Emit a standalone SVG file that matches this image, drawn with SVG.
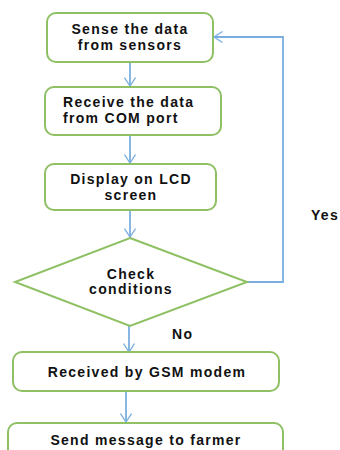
<svg xmlns="http://www.w3.org/2000/svg" width="340" height="450" viewBox="0 0 340 450">
  <defs>
    <marker id="open" viewBox="0 0 10 12" refX="9.5" refY="6" markerWidth="10" markerHeight="12" markerUnits="userSpaceOnUse" orient="auto">
      <path d="M1 0.5 L9.5 6 L1 11.5" fill="none" stroke="#7aaee0" stroke-width="1.3"/>
    </marker>
  </defs>
  <style>
    .box { fill: #ffffff; stroke: #8fc064; stroke-width: 2; }
    .lbl { font-family: "Liberation Sans", Arial, sans-serif; font-weight: bold; font-size: 14px; letter-spacing: 1.3px; fill: #111111; }
    .mid { text-anchor: middle; }
    .edge { fill: none; stroke: #7aaee0; stroke-width: 1.8; marker-end: url(#open); }
  </style>
  <rect width="340" height="450" fill="#ffffff"/>

  <g id="connectors">
    <line class="edge" x1="130" y1="62" x2="130" y2="86"/>
    <line class="edge" x1="130" y1="135" x2="130" y2="163"/>
    <line class="edge" x1="130" y1="210" x2="130" y2="237"/>
    <line class="edge" x1="129" y1="326" x2="129" y2="352"/>
    <line class="edge" x1="126" y1="391" x2="126" y2="422"/>
    <polyline class="edge" points="247,282 283,282 283,37 214,37"/>
    <text class="lbl" x="311" y="220">Yes</text>
    <text class="lbl" x="172" y="339">No</text>
  </g>

  <g id="sense">
    <rect class="box" x="47" y="13" width="166" height="49" rx="9"/>
    <text class="lbl mid" x="130" y="34">Sense the data</text>
    <text class="lbl mid" x="130" y="50">from sensors</text>
  </g>

  <g id="receive">
    <rect class="box" x="45" y="87" width="176" height="48" rx="9"/>
    <text class="lbl" x="63" y="107">Receive the data</text>
    <text class="lbl" x="63" y="123">from COM port</text>
  </g>

  <g id="display">
    <rect class="box" x="45" y="164" width="171" height="46" rx="9"/>
    <text class="lbl mid" x="131" y="184">Display on LCD</text>
    <text class="lbl mid" x="131" y="200">screen</text>
  </g>

  <g id="check">
    <polygon class="box" points="130,238 247,282 130,326 15,282"/>
    <text class="lbl mid" x="131" y="279">Check</text>
    <text class="lbl mid" x="131" y="294">conditions</text>
  </g>

  <g id="gsm">
    <rect class="box" x="13" y="352" width="266" height="39" rx="9"/>
    <text class="lbl mid" x="147" y="377">Received by GSM modem</text>
  </g>

  <g id="send">
    <rect class="box" x="8" y="423" width="275" height="40" rx="9"/>
    <text class="lbl mid" x="146" y="445">Send message to farmer</text>
  </g>
</svg>
